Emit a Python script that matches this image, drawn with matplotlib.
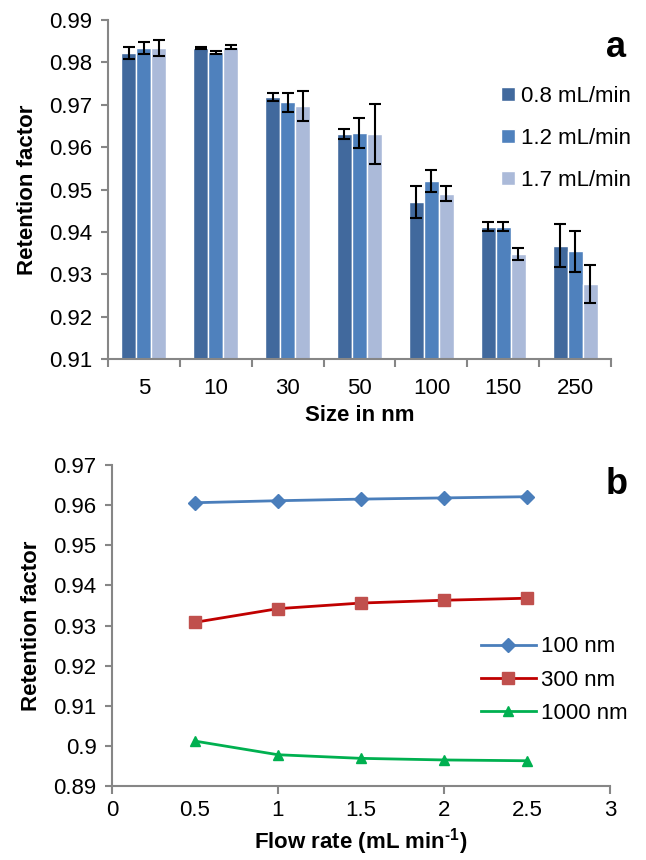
import numpy as np
import matplotlib
matplotlib.use('Agg')
from matplotlib import pyplot as plt
from matplotlib.ticker import FuncFormatter

plt.rcParams['font.family'] = ['Liberation Sans', 'DejaVu Sans']
plt.rcParams['mathtext.fontset'] = 'custom'
plt.rcParams['mathtext.rm'] = 'Liberation Sans:bold'
plt.rcParams['mathtext.bf'] = 'Liberation Sans:bold'

# (a) retention factor vs particle size
sizes = ['5', '10', '30', '50', '100', '150', '250']
flow_labels = ['0.8 mL/min', '1.2 mL/min', '1.7 mL/min']
rf_08 = [0.9822, 0.9834, 0.9718, 0.9631, 0.9470, 0.9412, 0.9367]
rf_12 = [0.9834, 0.9824, 0.9706, 0.9634, 0.9521, 0.9412, 0.9354]
rf_17 = [0.9834, 0.9837, 0.9697, 0.9631, 0.9490, 0.9347, 0.9276]
err_08 = [0.0014, 0.0002, 0.0010, 0.0011, 0.0038, 0.0011, 0.0051]
err_12 = [0.0015, 0.0004, 0.0023, 0.0036, 0.0026, 0.0011, 0.0048]
err_17 = [0.0019, 0.0005, 0.0035, 0.0070, 0.0018, 0.0014, 0.0045]

# (b) retention factor vs flow rate
flow = [0.5, 1.0, 1.5, 2.0, 2.5]
rf_100nm = [0.9606, 0.9611, 0.9615, 0.9618, 0.9621]
rf_300nm = [0.9308, 0.9342, 0.9356, 0.9363, 0.9368]
rf_1000nm = [0.9012, 0.8978, 0.8969, 0.8965, 0.8963]

gray = '#868686'
fs = 16


def fmt(v, pos):
    return ('%.2f' % v).rstrip('0')


def style_axes(ax):
    for s in ['top', 'right']:
        ax.spines[s].set_visible(False)
    for s in ['left', 'bottom']:
        ax.spines[s].set_color(gray)
        ax.spines[s].set_linewidth(1.5)
    ax.tick_params(axis='y', colors=gray, labelcolor='black', labelsize=fs,
                   length=5, width=1.5, pad=6)
    ax.tick_params(axis='x', colors=gray, labelcolor='black', labelsize=fs,
                   width=1.5)
    ax.yaxis.set_major_formatter(FuncFormatter(fmt))


fig = plt.figure(figsize=(6.46, 8.6), dpi=100)

# ---- panel a ----
ax1 = fig.add_axes([0.167, 0.5826, 0.779, 0.394])
x = np.arange(len(sizes))
w = 0.21
cols = ['#41699D', '#4F81BD', '#ABBAD9']
series = [rf_08, rf_12, rf_17]
errs = [err_08, err_12, err_17]
for i in range(3):
    ax1.bar(x + (i - 1) * w, np.array(series[i]) - 0.91, bottom=0.91, width=w,
            color=cols[i], edgecolor='white', linewidth=1, label=flow_labels[i])
    ax1.errorbar(x + (i - 1) * w, series[i], yerr=errs[i], fmt='none',
                 ecolor='black', elinewidth=1.5, capsize=4.5, capthick=1.5)
ax1.set_xlim(-0.5, len(sizes) - 0.5)
ax1.set_ylim(0.91, 0.99)
ax1.set_yticks(np.arange(0.91, 0.9901, 0.01))
ax1.set_xticks(x)
ax1.set_xticklabels(sizes)
ax1.set_xticks(np.arange(-0.5, len(sizes), 1), minor=True)
style_axes(ax1)
ax1.tick_params(axis='x', which='major', length=0, pad=14)
ax1.tick_params(axis='x', which='minor', length=6, width=1.5, color=gray)
ax1.set_ylabel('Retention factor', fontsize=fs, fontweight='bold', labelpad=8)
ax1.set_xlabel('Size in nm', fontsize=fs, fontweight='bold', labelpad=4)
ax1.legend(loc='upper right', bbox_to_anchor=(1.08, 0.865), frameon=False,
           fontsize=fs, handlelength=0.6, handleheight=0.6, handletextpad=0.3,
           labelspacing=0.95)
ax1.text(1.03, 0.92, 'a', transform=ax1.transAxes, fontsize=26,
         fontweight='bold', ha='right', va='center')

# ---- panel b ----
ax2 = fig.add_axes([0.1734, 0.086, 0.7706, 0.3733])
ax2.plot(flow, rf_100nm, color='#4A7EBB', lw=2, marker='D', ms=7,
         mfc='#4A7EBB', mec='#4A7EBB', label='100 nm')
ax2.plot(flow, rf_300nm, color='#C00000', lw=2, marker='s', ms=8,
         mfc='#C0504D', mec='#C0504D', label='300 nm')
ax2.plot(flow, rf_1000nm, color='#00B050', lw=2, marker='^', ms=7,
         mfc='#00B050', mec='#00B050', label='1000 nm')
ax2.set_xlim(0, 3)
ax2.set_ylim(0.89, 0.97)
ax2.set_yticks(np.arange(0.89, 0.9701, 0.01))
ax2.set_xticks(np.arange(0, 3.01, 0.5))
ax2.set_xticklabels(['0', '0.5', '1', '1.5', '2', '2.5', '3'])
ax2.xaxis.remove_overlapping_locs = False
ax2.set_xticks([0, 1, 2, 3], minor=True)
style_axes(ax2)
ax2.tick_params(axis='x', which='major', length=0, pad=10)
ax2.tick_params(axis='x', which='minor', length=6, width=1.5, color=gray)
ax2.set_ylabel('Retention factor', fontsize=fs, fontweight='bold', labelpad=8)
ax2.set_xlabel(r'Flow rate (mL min$^{\text{-1}}$)', fontsize=fs,
               fontweight='bold', labelpad=4)
ax2.legend(loc='center right', bbox_to_anchor=(1.075, 0.33), frameon=False,
           fontsize=fs, handlelength=2.5, handletextpad=0.2, labelspacing=0.55)
ax2.text(1.035, 0.94, 'b', transform=ax2.transAxes, fontsize=26,
         fontweight='bold', ha='right', va='center')

fig.savefig('out.png', dpi=100)
